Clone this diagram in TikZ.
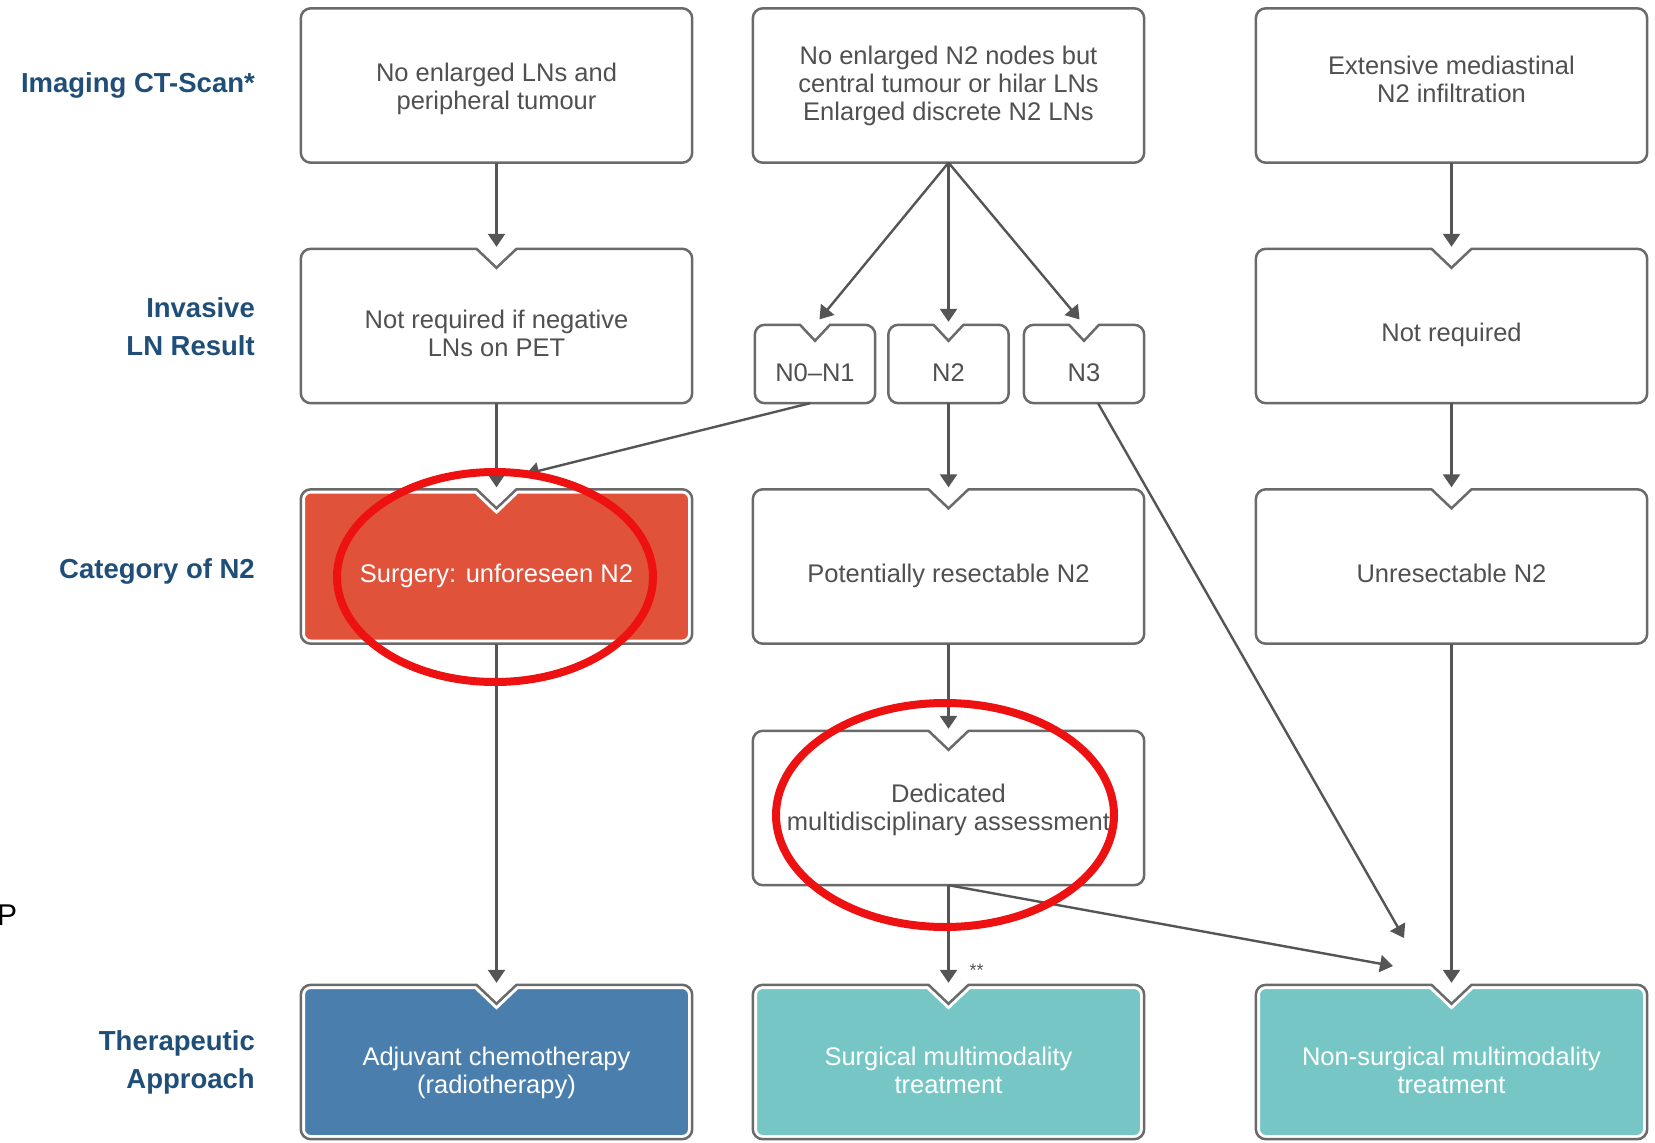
\documentclass[tikz,border=0pt]{standalone}
\usepackage{fontspec}
\setmainfont{Liberation Sans}
\usetikzlibrary{calc,arrows.meta,backgrounds}

\definecolor{boxline}{HTML}{6A6A6A}
\definecolor{arrowgray}{HTML}{555555}
\definecolor{boxtext}{HTML}{505050}
\definecolor{rowblue}{HTML}{1F4E79}
\definecolor{surgred}{HTML}{E0523A}
\definecolor{adjblue}{HTML}{4A7FAD}
\definecolor{tealbox}{HTML}{76C6C6}
\definecolor{markred}{HTML}{EE1111}

% Rounded box outline with a V notch at the top centre.
% #1 path options, #2 node, #3 inset, #4 notch half width, #5 notch depth, #6 corner radius
\newcommand\nbdraw[6]{%
  \path[#1] let \p1=(#2.north west), \p2=(#2.south east), \p3=(#2.north) in
    (\x1+10pt,\y1-#3) -- (\x3-#4-0.4*#3,\y1-#3) -- (\x3,\y1-#5-1.4*#3)
    -- (\x3+#4+0.4*#3,\y1-#3) -- (\x2-10pt,\y1-#3)
    arc[start angle=90,end angle=0,radius=#6] -- (\x2-#3,\y2+10pt)
    arc[start angle=0,end angle=-90,radius=#6] -- (\x1+10pt,\y2+#3)
    arc[start angle=-90,end angle=-180,radius=#6] -- (\x1+#3,\y1-10pt)
    arc[start angle=180,end angle=90,radius=#6] -- cycle;}

% centred multi-line box text, moved up or down inside its box
\newcommand\tx[2][0pt]{\raisebox{#1}[\height][\depth]{\begin{tabular}{@{}c@{}}#2\end{tabular}}}

\tikzset{
  stagebox/.style={rectangle, minimum width=391pt, minimum height=154pt,
    inner sep=0pt, text=boxtext, font=\fontsize{25.5}{28}\selectfont},
  nbox/.style={stagebox, minimum width=120pt, minimum height=78pt},
  rowlabel/.style={anchor=east, inner sep=0pt, text=rowblue, align=right,
    font=\bfseries\fontsize{27.5}{38}\selectfont},
  flow/.style={draw=arrowgray, line width=2.4pt, shorten >=2pt,
    -{Triangle[width=17pt,length=13pt]}},
  outline/.style={draw=boxline, line width=2.5pt, fill=white},
  innerline/.style={draw=white, line width=1.4pt},
  ringmark/.style={draw=markred, line width=8pt},
}

\begin{document}
\begin{tikzpicture}[x=1pt,y=-1pt]
\useasboundingbox (0,0) rectangle (1655,1143);

% row labels
\node[rowlabel] (lab1) at (255,85) {Imaging CT-Scan*};
\node[rowlabel] (lab2) at (255,327) {Invasive\\LN Result};
\node[rowlabel] (lab3) at (255,571) {Category of N2};
\node[rowlabel] (lab4) at (255,1062) {Therapeutic\\Approach};
\node[anchor=base west, inner sep=0pt, font=\fontsize{30}{30}\selectfont, text=black] (pmark) at (-3,925) {P};

% imaging
\node[stagebox] (ct1) at (496.5,85.5) {\tx[-4.5pt]{No enlarged LNs and\\peripheral tumour}};
\node[stagebox] (ct2) at (948.5,85.5) {\tx[-1pt]{No enlarged N2 nodes but\\central tumour or hilar LNs\\Enlarged discrete N2 LNs}};
\node[stagebox] (ct3) at (1451.5,85.5) {\tx[3pt]{Extensive mediastinal\\N2 infiltration}};

% invasive LN result
\node[stagebox] (inv1) at (496.5,326) {\tx[-10.5pt]{Not required if negative\\LNs on PET}};
\node[nbox] (n01) at (815,364) {\tx[-11.5pt]{N0–N1}};
\node[nbox] (n2) at (948.5,364) {\tx[-11.5pt]{N2}};
\node[nbox] (n3) at (1084,364) {\tx[-11.5pt]{N3}};
\node[stagebox] (inv3) at (1451.5,326) {\tx[-9.5pt]{Not required}};

% category of N2
\node[stagebox, text=white] (cat1) at (496.5,566.5) {\tx[-10.5pt]{Surgery: unforeseen N2}};
\node[stagebox] (cat2) at (948.5,566.5) {\tx[-10.5pt]{Potentially resectable N2}};
\node[stagebox] (cat3) at (1451.5,566.5) {\tx[-10.5pt]{Unresectable N2}};

\node[stagebox] (ded) at (948.5,808) {\tx[-3pt]{Dedicated\\multidisciplinary assessment}};

% therapeutic approach
\node[stagebox, text=white] (ther1) at (496.5,1062) {\tx[-11.5pt]{Adjuvant chemotherapy\\(radiotherapy)}};
\node[stagebox, text=white] (ther2) at (948.5,1062) {\tx[-11.5pt]{Surgical multimodality\\treatment}};
\node[stagebox, text=white] (ther3) at (1451.5,1062) {\tx[-11.5pt]{Non-surgical multimodality\\treatment}};

\begin{scope}[on background layer]
  \fill[white] (0,0) rectangle (1655,1143);
  \foreach \b in {ct1,ct2,ct3}{\nbdraw{outline}{\b}{0pt}{0pt}{0pt}{10pt}}
  \foreach \b in {inv1,inv3,cat2,cat3,ded}{\nbdraw{outline}{\b}{0pt}{20pt}{19pt}{10pt}}
  \foreach \b in {n01,n2,n3}{\nbdraw{outline}{\b}{0pt}{15pt}{16pt}{10pt}}
  \nbdraw{outline}{cat1}{0pt}{20pt}{19pt}{10pt}
  \nbdraw{innerline,fill=surgred}{cat1}{3.5pt}{20pt}{19pt}{6.5pt}
  \nbdraw{outline}{ther1}{0pt}{20pt}{19pt}{10pt}
  \nbdraw{innerline,fill=adjblue}{ther1}{3.5pt}{20pt}{19pt}{6.5pt}
  \nbdraw{outline}{ther2}{0pt}{20pt}{19pt}{10pt}
  \nbdraw{innerline,fill=tealbox}{ther2}{3.5pt}{20pt}{19pt}{6.5pt}
  \nbdraw{outline}{ther3}{0pt}{20pt}{19pt}{10pt}
  \nbdraw{innerline,fill=tealbox}{ther3}{3.5pt}{20pt}{19pt}{6.5pt}
\end{scope}

% free arrow ends beside the notches
\coordinate (surgin) at (526,474);
\coordinate (nsin3) at (1404,938);
\coordinate (nsin2) at (1393,966);

% connectors
\draw[flow] (ct1.south) -- (inv1.north);
\draw[flow, shorten >=7pt] (ct2.south) -- (n01.north);
\draw[flow, shorten >=3pt] (ct2.south) -- (n2.north);
\draw[flow, shorten >=7pt] (ct2.south) -- (n3.north);
\draw[flow] (ct3.south) -- (inv3.north);
\draw[flow] (inv1.south) -- (cat1.north);
\draw[flow, shorten >=0pt] ([xshift=-5pt]n01.south) -- (surgin);
\draw[flow] (n2.south) -- (cat2.north);
\draw[flow] (inv3.south) -- (cat3.north);
\draw[flow, shorten >=0pt] ([xshift=14pt]n3.south) -- (nsin3);
\draw[flow] (cat1.south) -- (ther1.north);
\draw[flow] (cat2.south) -- (ded.north);
\draw[flow] (cat3.south) -- (ther3.north);
\draw[flow] (ded.south) -- node[pos=0.85, anchor=west, inner sep=0pt, xshift=20pt,
  text=arrowgray, font=\fontsize{18}{18}\selectfont] (dstar) {**} (ther2.north);
\draw[flow, shorten >=0pt] (ded.south) -- (nsin2);

% red rings
\draw[ringmark] (495,577) ellipse [x radius=158pt, y radius=105pt];
\draw[ringmark] (945,815) ellipse [x radius=169pt, y radius=112pt];
\end{tikzpicture}
\end{document}
